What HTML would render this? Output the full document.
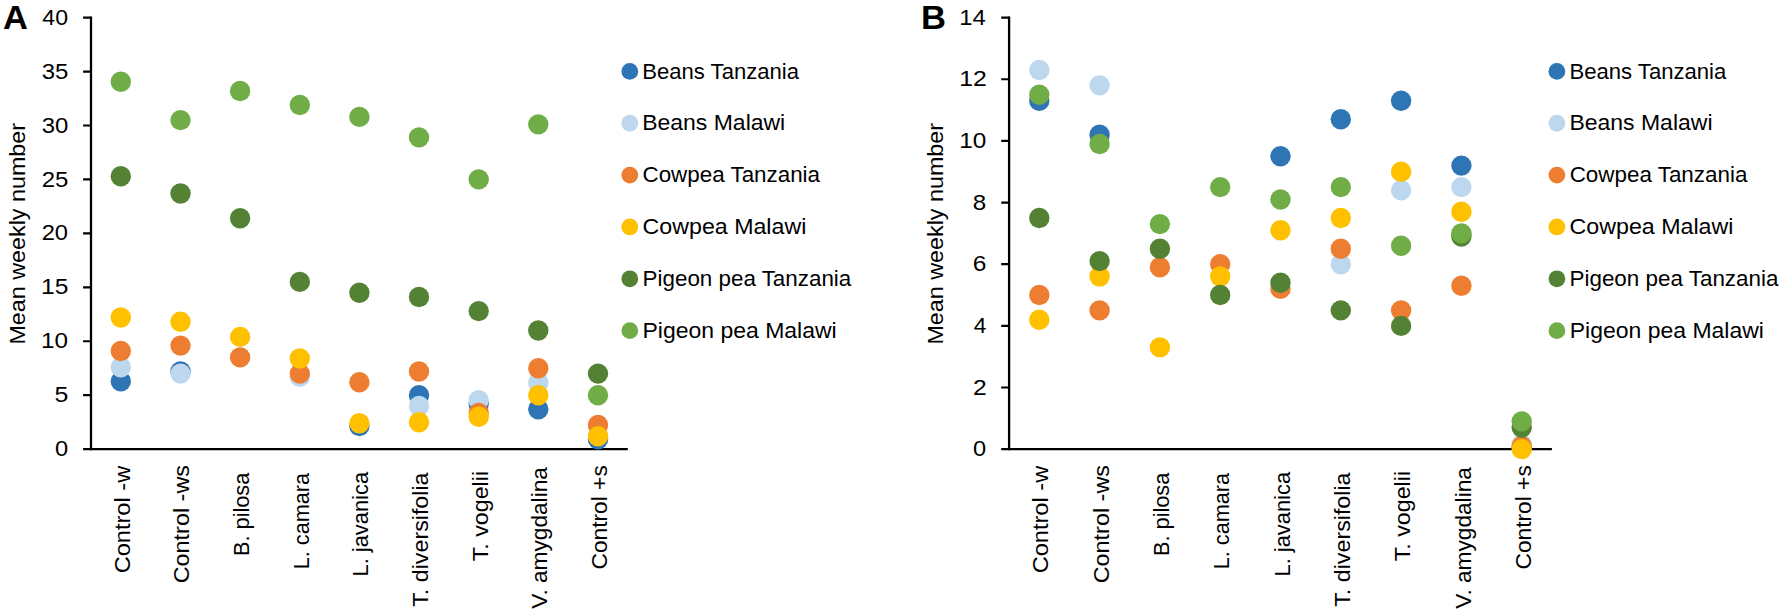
<!DOCTYPE html>
<html lang="en"><head><meta charset="utf-8"><title>Mean weekly number</title>
<style>
html,body{margin:0;padding:0;background:#fff}
svg{display:block}
text{font-family:"Liberation Sans",Arial,sans-serif;fill:#000}
</style></head><body>
<svg width="1784" height="616" viewBox="0 0 1784 616">
<rect width="1784" height="616" fill="#fff"/>
<g id="chartA">
<path d="M91.0 16.50V450.25" stroke="#000" stroke-width="2.3" fill="none"/>
<path d="M83.1 449.15H627.8" stroke="#000" stroke-width="2.2" fill="none"/>
<path d="M83.1 395.21H91.0M83.1 341.26H91.0M83.1 287.32H91.0M83.1 233.38H91.0M83.1 179.43H91.0M83.1 125.49H91.0M83.1 71.54H91.0M83.1 17.60H91.0" stroke="#000" stroke-width="2.2" fill="none"/>
<g fill="#2E75B6"><circle cx="120.8" cy="381.2" r="10.2"/><circle cx="180.5" cy="371.5" r="10.2"/><circle cx="359.4" cy="426.0" r="10.2"/><circle cx="419.0" cy="395.2" r="10.2"/><circle cx="478.7" cy="403.8" r="10.2"/><circle cx="538.3" cy="409.2" r="10.2"/><circle cx="598.0" cy="439.4" r="10.2"/></g>
<g fill="#BDD7EE"><circle cx="120.8" cy="367.2" r="10.2"/><circle cx="180.5" cy="373.6" r="10.2"/><circle cx="299.8" cy="376.9" r="10.2"/><circle cx="419.0" cy="406.0" r="10.2"/><circle cx="478.7" cy="400.1" r="10.2"/><circle cx="538.3" cy="382.8" r="10.2"/><circle cx="598.0" cy="435.1" r="10.2"/></g>
<g fill="#ED7D31"><circle cx="120.8" cy="351.0" r="10.2"/><circle cx="180.5" cy="345.6" r="10.2"/><circle cx="240.1" cy="357.4" r="10.2"/><circle cx="299.8" cy="373.6" r="10.2"/><circle cx="359.4" cy="382.3" r="10.2"/><circle cx="419.0" cy="371.5" r="10.2"/><circle cx="478.7" cy="413.0" r="10.2"/><circle cx="538.3" cy="368.2" r="10.2"/><circle cx="598.0" cy="424.9" r="10.2"/></g>
<g fill="#FFC000"><circle cx="120.8" cy="317.5" r="10.2"/><circle cx="180.5" cy="321.8" r="10.2"/><circle cx="240.1" cy="336.9" r="10.2"/><circle cx="299.8" cy="358.5" r="10.2"/><circle cx="359.4" cy="423.3" r="10.2"/><circle cx="419.0" cy="422.2" r="10.2"/><circle cx="478.7" cy="416.8" r="10.2"/><circle cx="538.3" cy="395.2" r="10.2"/><circle cx="598.0" cy="436.2" r="10.2"/></g>
<g fill="#548235"><circle cx="120.8" cy="176.2" r="10.2"/><circle cx="180.5" cy="193.5" r="10.2"/><circle cx="240.1" cy="218.3" r="10.2"/><circle cx="299.8" cy="281.9" r="10.2"/><circle cx="359.4" cy="292.7" r="10.2"/><circle cx="419.0" cy="297.0" r="10.2"/><circle cx="478.7" cy="311.1" r="10.2"/><circle cx="538.3" cy="330.5" r="10.2"/><circle cx="598.0" cy="373.6" r="10.2"/></g>
<g fill="#70AD47"><circle cx="120.8" cy="81.8" r="10.2"/><circle cx="180.5" cy="120.1" r="10.2"/><circle cx="240.1" cy="91.0" r="10.2"/><circle cx="299.8" cy="105.0" r="10.2"/><circle cx="359.4" cy="116.9" r="10.2"/><circle cx="419.0" cy="137.4" r="10.2"/><circle cx="478.7" cy="179.4" r="10.2"/><circle cx="538.3" cy="124.4" r="10.2"/><circle cx="598.0" cy="395.2" r="10.2"/></g>
<circle cx="629.8" cy="71.40" r="8.4" fill="#2E75B6"/><circle cx="629.8" cy="123.25" r="8.4" fill="#BDD7EE"/><circle cx="629.8" cy="175.10" r="8.4" fill="#ED7D31"/><circle cx="629.8" cy="226.95" r="8.4" fill="#FFC000"/><circle cx="629.8" cy="278.80" r="8.4" fill="#548235"/><circle cx="629.8" cy="330.65" r="8.4" fill="#70AD47"/>
</g>
<g id="chartB">
<path d="M1009.1 16.50V450.25" stroke="#000" stroke-width="2.3" fill="none"/>
<path d="M1001.2 449.15H1551.9" stroke="#000" stroke-width="2.2" fill="none"/>
<path d="M1001.2 387.50H1009.1M1001.2 325.85H1009.1M1001.2 264.20H1009.1M1001.2 202.55H1009.1M1001.2 140.90H1009.1M1001.2 79.25H1009.1M1001.2 17.60H1009.1" stroke="#000" stroke-width="2.2" fill="none"/>
<g fill="#2E75B6"><circle cx="1039.3" cy="100.8" r="10.2"/><circle cx="1099.6" cy="134.7" r="10.2"/><circle cx="1280.5" cy="156.3" r="10.2"/><circle cx="1340.8" cy="119.3" r="10.2"/><circle cx="1401.1" cy="100.8" r="10.2"/><circle cx="1461.4" cy="165.6" r="10.2"/><circle cx="1521.7" cy="447.6" r="10.2"/></g>
<g fill="#BDD7EE"><circle cx="1039.3" cy="70.0" r="10.2"/><circle cx="1099.6" cy="85.4" r="10.2"/><circle cx="1340.8" cy="264.2" r="10.2"/><circle cx="1401.1" cy="190.2" r="10.2"/><circle cx="1461.4" cy="187.1" r="10.2"/><circle cx="1521.7" cy="444.5" r="10.2"/></g>
<g fill="#ED7D31"><circle cx="1039.3" cy="295.0" r="10.2"/><circle cx="1099.6" cy="310.4" r="10.2"/><circle cx="1159.9" cy="267.3" r="10.2"/><circle cx="1220.2" cy="264.2" r="10.2"/><circle cx="1280.5" cy="288.9" r="10.2"/><circle cx="1340.8" cy="248.8" r="10.2"/><circle cx="1401.1" cy="310.4" r="10.2"/><circle cx="1461.4" cy="285.8" r="10.2"/><circle cx="1521.7" cy="446.1" r="10.2"/></g>
<g fill="#FFC000"><circle cx="1039.3" cy="319.7" r="10.2"/><circle cx="1099.6" cy="276.5" r="10.2"/><circle cx="1159.9" cy="347.4" r="10.2"/><circle cx="1220.2" cy="276.5" r="10.2"/><circle cx="1280.5" cy="230.3" r="10.2"/><circle cx="1340.8" cy="218.0" r="10.2"/><circle cx="1401.1" cy="171.7" r="10.2"/><circle cx="1461.4" cy="211.8" r="10.2"/><circle cx="1521.7" cy="449.1" r="10.2"/></g>
<g fill="#548235"><circle cx="1039.3" cy="218.0" r="10.2"/><circle cx="1099.6" cy="261.1" r="10.2"/><circle cx="1159.9" cy="248.8" r="10.2"/><circle cx="1220.2" cy="295.0" r="10.2"/><circle cx="1280.5" cy="282.7" r="10.2"/><circle cx="1340.8" cy="310.4" r="10.2"/><circle cx="1401.1" cy="325.9" r="10.2"/><circle cx="1461.4" cy="236.5" r="10.2"/><circle cx="1521.7" cy="427.6" r="10.2"/></g>
<g fill="#70AD47"><circle cx="1039.3" cy="94.7" r="10.2"/><circle cx="1099.6" cy="144.0" r="10.2"/><circle cx="1159.9" cy="224.1" r="10.2"/><circle cx="1220.2" cy="187.1" r="10.2"/><circle cx="1280.5" cy="199.5" r="10.2"/><circle cx="1340.8" cy="187.1" r="10.2"/><circle cx="1401.1" cy="245.7" r="10.2"/><circle cx="1461.4" cy="233.4" r="10.2"/><circle cx="1521.7" cy="421.4" r="10.2"/></g>
<circle cx="1556.9" cy="71.40" r="8.4" fill="#2E75B6"/><circle cx="1556.9" cy="123.25" r="8.4" fill="#BDD7EE"/><circle cx="1556.9" cy="175.10" r="8.4" fill="#ED7D31"/><circle cx="1556.9" cy="226.95" r="8.4" fill="#FFC000"/><circle cx="1556.9" cy="278.80" r="8.4" fill="#548235"/><circle cx="1556.9" cy="330.65" r="8.4" fill="#70AD47"/>
</g>
<text id="pA" font-size="33.6" font-weight="bold" textLength="24.92" lengthAdjust="spacingAndGlyphs" x="2.98" y="29.20">A</text>
<text id="pB" font-size="33.6" font-weight="bold" textLength="24.99" lengthAdjust="spacingAndGlyphs" x="920.90" y="29.20">B</text>
<text id="ytA" font-size="22.3" font-weight="normal" textLength="221.60" lengthAdjust="spacingAndGlyphs" transform="translate(24.70 344.55) rotate(-90)">Mean weekly number</text>
<text id="ytB" font-size="22.3" font-weight="normal" textLength="221.60" lengthAdjust="spacingAndGlyphs" transform="translate(943.20 344.55) rotate(-90)">Mean weekly number</text>
<text id="xA0" font-size="22.3" font-weight="normal" textLength="107.56" lengthAdjust="spacingAndGlyphs" transform="translate(129.72 573.37) rotate(-90)">Control -w</text>
<text id="xA1" font-size="22.3" font-weight="normal" textLength="118.23" lengthAdjust="spacingAndGlyphs" transform="translate(189.37 583.27) rotate(-90)">Control -ws</text>
<text id="xA2" font-size="22.3" font-weight="normal" textLength="83.33" lengthAdjust="spacingAndGlyphs" transform="translate(249.01 556.01) rotate(-90)">B. pilosa</text>
<text id="xA3" font-size="22.3" font-weight="normal" textLength="96.46" lengthAdjust="spacingAndGlyphs" transform="translate(308.66 569.31) rotate(-90)">L. camara</text>
<text id="xA4" font-size="22.3" font-weight="normal" textLength="104.63" lengthAdjust="spacingAndGlyphs" transform="translate(368.30 576.53) rotate(-90)">L. javanica</text>
<text id="xA5" font-size="22.3" font-weight="normal" textLength="134.30" lengthAdjust="spacingAndGlyphs" transform="translate(427.94 606.76) rotate(-90)">T. diversifolia</text>
<text id="xA6" font-size="22.3" font-weight="normal" textLength="90.36" lengthAdjust="spacingAndGlyphs" transform="translate(487.59 561.28) rotate(-90)">T. vogelii</text>
<text id="xA7" font-size="22.3" font-weight="normal" textLength="141.51" lengthAdjust="spacingAndGlyphs" transform="translate(547.23 608.63) rotate(-90)">V. amygdalina</text>
<text id="xA8" font-size="22.3" font-weight="normal" textLength="104.27" lengthAdjust="spacingAndGlyphs" transform="translate(606.88 569.50) rotate(-90)">Control +s</text>
<text id="xB0" font-size="22.3" font-weight="normal" textLength="107.56" lengthAdjust="spacingAndGlyphs" transform="translate(1048.36 573.37) rotate(-90)">Control -w</text>
<text id="xB1" font-size="22.3" font-weight="normal" textLength="118.23" lengthAdjust="spacingAndGlyphs" transform="translate(1108.67 583.27) rotate(-90)">Control -ws</text>
<text id="xB2" font-size="22.3" font-weight="normal" textLength="83.33" lengthAdjust="spacingAndGlyphs" transform="translate(1168.98 556.01) rotate(-90)">B. pilosa</text>
<text id="xB3" font-size="22.3" font-weight="normal" textLength="96.46" lengthAdjust="spacingAndGlyphs" transform="translate(1229.29 569.31) rotate(-90)">L. camara</text>
<text id="xB4" font-size="22.3" font-weight="normal" textLength="104.63" lengthAdjust="spacingAndGlyphs" transform="translate(1289.60 576.53) rotate(-90)">L. javanica</text>
<text id="xB5" font-size="22.3" font-weight="normal" textLength="134.30" lengthAdjust="spacingAndGlyphs" transform="translate(1349.91 606.76) rotate(-90)">T. diversifolia</text>
<text id="xB6" font-size="22.3" font-weight="normal" textLength="90.36" lengthAdjust="spacingAndGlyphs" transform="translate(1410.22 561.28) rotate(-90)">T. vogelii</text>
<text id="xB7" font-size="22.3" font-weight="normal" textLength="141.51" lengthAdjust="spacingAndGlyphs" transform="translate(1470.53 608.63) rotate(-90)">V. amygdalina</text>
<text id="xB8" font-size="22.3" font-weight="normal" textLength="104.27" lengthAdjust="spacingAndGlyphs" transform="translate(1530.84 569.50) rotate(-90)">Control +s</text>
<text id="lgA0" font-size="22.3" font-weight="normal" textLength="156.77" lengthAdjust="spacingAndGlyphs" x="642.26" y="78.50">Beans Tanzania</text>
<text id="lgA1" font-size="22.3" font-weight="normal" textLength="143.05" lengthAdjust="spacingAndGlyphs" x="642.19" y="130.35">Beans Malawi</text>
<text id="lgA2" font-size="22.3" font-weight="normal" textLength="177.55" lengthAdjust="spacingAndGlyphs" x="642.50" y="182.20">Cowpea Tanzania</text>
<text id="lgA3" font-size="22.3" font-weight="normal" textLength="163.73" lengthAdjust="spacingAndGlyphs" x="642.60" y="234.05">Cowpea Malawi</text>
<text id="lgA4" font-size="22.3" font-weight="normal" textLength="208.66" lengthAdjust="spacingAndGlyphs" x="642.62" y="285.90">Pigeon pea Tanzania</text>
<text id="lgA5" font-size="22.3" font-weight="normal" textLength="194.27" lengthAdjust="spacingAndGlyphs" x="642.45" y="337.75">Pigeon pea Malawi</text>
<text id="lgB0" font-size="22.3" font-weight="normal" textLength="156.82" lengthAdjust="spacingAndGlyphs" x="1569.47" y="78.50">Beans Tanzania</text>
<text id="lgB1" font-size="22.3" font-weight="normal" textLength="143.06" lengthAdjust="spacingAndGlyphs" x="1569.45" y="130.35">Beans Malawi</text>
<text id="lgB2" font-size="22.3" font-weight="normal" textLength="177.73" lengthAdjust="spacingAndGlyphs" x="1569.66" y="182.20">Cowpea Tanzania</text>
<text id="lgB3" font-size="22.3" font-weight="normal" textLength="163.88" lengthAdjust="spacingAndGlyphs" x="1569.58" y="234.05">Cowpea Malawi</text>
<text id="lgB4" font-size="22.3" font-weight="normal" textLength="208.96" lengthAdjust="spacingAndGlyphs" x="1569.49" y="285.90">Pigeon pea Tanzania</text>
<text id="lgB5" font-size="22.3" font-weight="normal" textLength="194.20" lengthAdjust="spacingAndGlyphs" x="1569.73" y="337.75">Pigeon pea Malawi</text>
<text id="tA0" font-size="22.2" font-weight="normal" textLength="13.16" lengthAdjust="spacingAndGlyphs" x="55.00" y="456.25">0</text>
<text id="tA1" font-size="22.2" font-weight="normal" textLength="13.85" lengthAdjust="spacingAndGlyphs" x="54.44" y="402.31">5</text>
<text id="tA2" font-size="22.2" font-weight="normal" textLength="27.01" lengthAdjust="spacingAndGlyphs" x="41.09" y="348.36">10</text>
<text id="tA3" font-size="22.2" font-weight="normal" textLength="27.32" lengthAdjust="spacingAndGlyphs" x="41.07" y="294.42">15</text>
<text id="tA4" font-size="22.2" font-weight="normal" textLength="26.40" lengthAdjust="spacingAndGlyphs" x="41.68" y="240.47">20</text>
<text id="tA5" font-size="22.2" font-weight="normal" textLength="26.70" lengthAdjust="spacingAndGlyphs" x="41.68" y="186.53">25</text>
<text id="tA6" font-size="22.2" font-weight="normal" textLength="26.63" lengthAdjust="spacingAndGlyphs" x="41.74" y="132.59">30</text>
<text id="tA7" font-size="22.2" font-weight="normal" textLength="26.67" lengthAdjust="spacingAndGlyphs" x="41.74" y="78.64">35</text>
<text id="tA8" font-size="22.2" font-weight="normal" textLength="25.66" lengthAdjust="spacingAndGlyphs" x="42.38" y="24.70">40</text>
<text id="tB0" font-size="22.2" font-weight="normal" textLength="13.14" lengthAdjust="spacingAndGlyphs" x="973.04" y="456.25">0</text>
<text id="tB1" font-size="22.2" font-weight="normal" textLength="13.68" lengthAdjust="spacingAndGlyphs" x="972.99" y="394.60">2</text>
<text id="tB2" font-size="22.2" font-weight="normal" textLength="12.62" lengthAdjust="spacingAndGlyphs" x="973.70" y="332.95">4</text>
<text id="tB3" font-size="22.2" font-weight="normal" textLength="13.66" lengthAdjust="spacingAndGlyphs" x="972.75" y="271.30">6</text>
<text id="tB4" font-size="22.2" font-weight="normal" textLength="13.43" lengthAdjust="spacingAndGlyphs" x="972.88" y="209.65">8</text>
<text id="tB5" font-size="22.2" font-weight="normal" textLength="27.11" lengthAdjust="spacingAndGlyphs" x="959.27" y="148.00">10</text>
<text id="tB6" font-size="22.2" font-weight="normal" textLength="27.66" lengthAdjust="spacingAndGlyphs" x="959.21" y="86.35">12</text>
<text id="tB7" font-size="22.2" font-weight="normal" textLength="26.57" lengthAdjust="spacingAndGlyphs" x="959.33" y="24.70">14</text>
</svg>
</body></html>
